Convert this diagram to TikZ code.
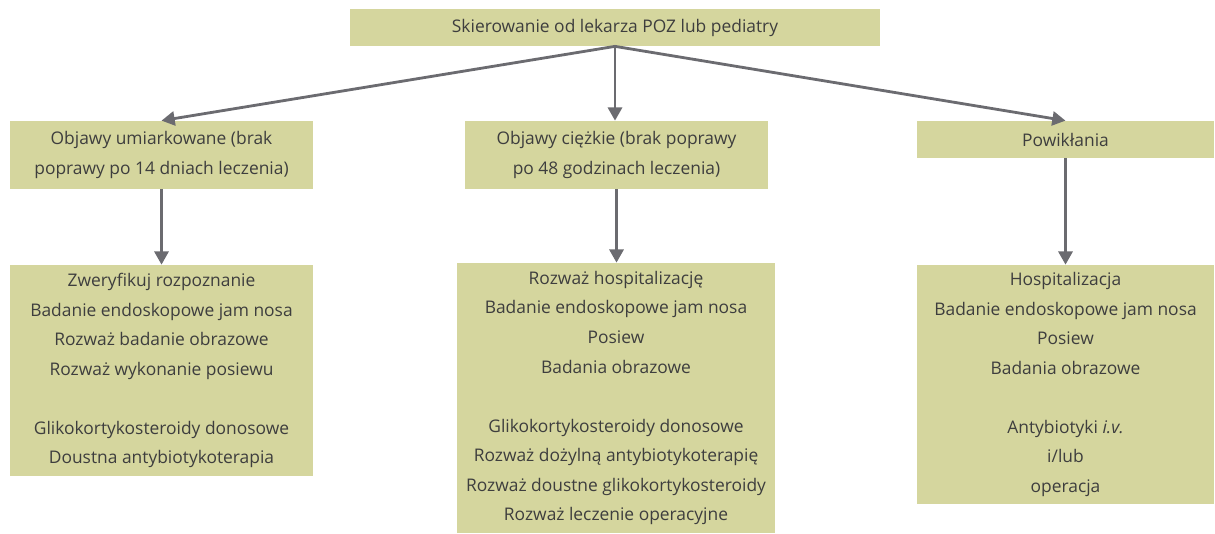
\documentclass[tikz,border=0pt]{standalone}
\usepackage{fontspec}
\setmainfont{Open Sans}
\usetikzlibrary{arrows.meta}
\definecolor{boxfill}{RGB}{213,214,158}
\definecolor{linkgray}{RGB}{107,107,112}
\definecolor{textgray}{RGB}{62,62,62}
\tikzset{
  box/.style={fill=boxfill, text=textgray, align=center, inner sep=0pt,
    font=\fontsize{9.9}{16.8}\selectfont},
  link/.style={draw=linkgray, line width=1.6pt, -{Triangle[length=7.5pt,width=8pt]}}
}
\begin{document}
\begin{tikzpicture}
\useasboundingbox (0,0) rectangle (24.3,-10.68);
% top
\node[box, minimum width=10.6cm, minimum height=0.74cm] (ref) at (12.3,-0.55)
  {Skierowanie od lekarza POZ lub pediatry};
% middle row
\node[box, minimum width=6.06cm, minimum height=1.36cm] (mild) at (3.23,-3.10)
  {Objawy umiarkowane (brak\\poprawy po 14 dniach leczenia)};
\node[box, minimum width=6.06cm, minimum height=1.36cm] (severe) at (12.33,-3.10)
  {Objawy ciężkie (brak poprawy\\po 48 godzinach leczenia)};
\node[box, minimum width=5.94cm, minimum height=0.74cm] (compl) at (21.31,-2.79)
  {Powikłania};
% bottom row
\node[box, minimum width=6.06cm, minimum height=4.22cm] (mildtx) at (3.23,-7.41)
  {Zweryfikuj rozpoznanie\\Badanie endoskopowe jam nosa\\Rozważ badanie obrazowe\\Rozważ wykonanie posiewu\\[0.59cm]
   Glikokortykosteroidy donosowe\\Doustna antybiotykoterapia};
\node[box, minimum width=6.36cm, minimum height=5.40cm] (severetx) at (12.32,-7.96)
  {Rozważ hospitalizację\\Badanie endoskopowe jam nosa\\Posiew\\Badania obrazowe\\[0.59cm]
   Glikokortykosteroidy donosowe\\Rozważ dożylną antybiotykoterapię\\Rozważ doustne glikokortykosteroidy\\Rozważ leczenie operacyjne};
\node[box, minimum width=5.94cm, minimum height=4.78cm] (compltx) at (21.31,-7.69)
  {Hospitalizacja\\Badanie endoskopowe jam nosa\\Posiew\\Badania obrazowe\\[0.59cm]
   Antybiotyki \textit{i.v.}\\i/lub\\operacja};
% arrows
\draw[link] (ref.south) -- (mild.north);
\draw[link] (ref.south) -- (ref.south |- severe.north);
\draw[link] (ref.south) -- (compl.north);
\draw[link] (mild.south) -- (mildtx.north);
\draw[link] (severe.south) -- (severe.south |- severetx.north);
\draw[link] (compl.south) -- (compltx.north);
\end{tikzpicture}
\end{document}
